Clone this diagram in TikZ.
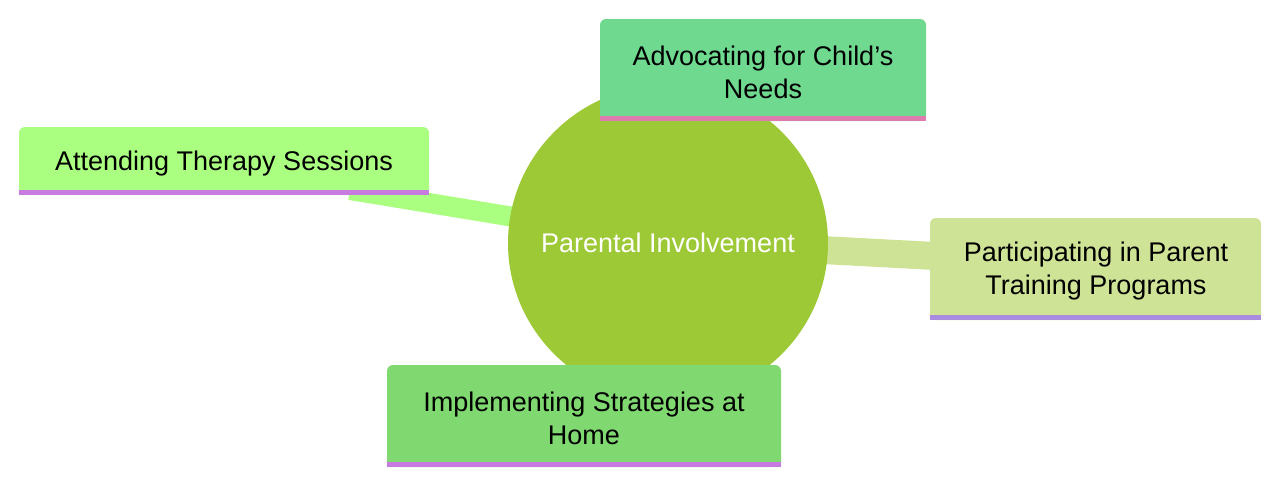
\documentclass[tikz,border=0pt]{standalone}
\usepackage{fontspec}
\setmainfont{Liberation Sans}
\begin{document}
\begin{tikzpicture}[x=1pt,y=-1pt,
  lbl/.style={font=\fontsize{27}{33}\selectfont,align=center,text=black},
  link/.style={line width=#1,line cap=butt}]
\useasboundingbox (0,0) rectangle (1280,483);
\definecolor{cA}{HTML}{6FD98F}
\definecolor{cB}{HTML}{AAFF80}
\definecolor{cC}{HTML}{CFE396}
\definecolor{cD}{HTML}{80D870}
\definecolor{cM}{HTML}{9DC936}
\definecolor{bPink}{HTML}{E07BB0}
\definecolor{bPur}{HTML}{C77BE0}
\definecolor{bLav}{HTML}{A98BE0}
\coordinate (ta) at (350,190);
\coordinate (ca) at (520,218);
\coordinate (cc) at (822,250);
\coordinate (tc) at (935,256);
\draw[link=20pt,cB] (ta) -- (ca);
\draw[link=28pt,cC] (cc) -- (tc);
\fill[cM] (668,243) ellipse (160 and 158);
\node[text=white,font=\fontsize{27}{33}\selectfont] (m) at (668,243) {Parental Involvement};
% Advocating
\fill[cA,rounded corners=6] (600,121) rectangle (926,19);
\fill[cA] (600,100) rectangle (926,121);
\fill[bPink] (600,116) rectangle (926,121);
\node[lbl] (a) at (763,72) {Advocating for Child's\\Needs};
% Attending
\fill[cB,rounded corners=6] (19,195) rectangle (429,127);
\fill[cB] (19,180) rectangle (429,195);
\fill[bPur] (19,190) rectangle (429,195);
\node[lbl] (b) at (224,164) {Attending Therapy Sessions};
% Participating
\fill[cC,rounded corners=6] (930,320) rectangle (1261,218);
\fill[cC] (930,300) rectangle (1261,320);
\fill[bLav] (930,315) rectangle (1261,320);
\node[lbl] (c) at (1096,271) {Participating in Parent\\Training Programs};
% Implementing
\fill[cD,rounded corners=6] (387,467) rectangle (781,365);
\fill[cD] (387,450) rectangle (781,467);
\fill[bPur] (387,462) rectangle (781,467);
\node[lbl] (d) at (584,418) {Implementing Strategies at\\Home};
\end{tikzpicture}
\end{document}
